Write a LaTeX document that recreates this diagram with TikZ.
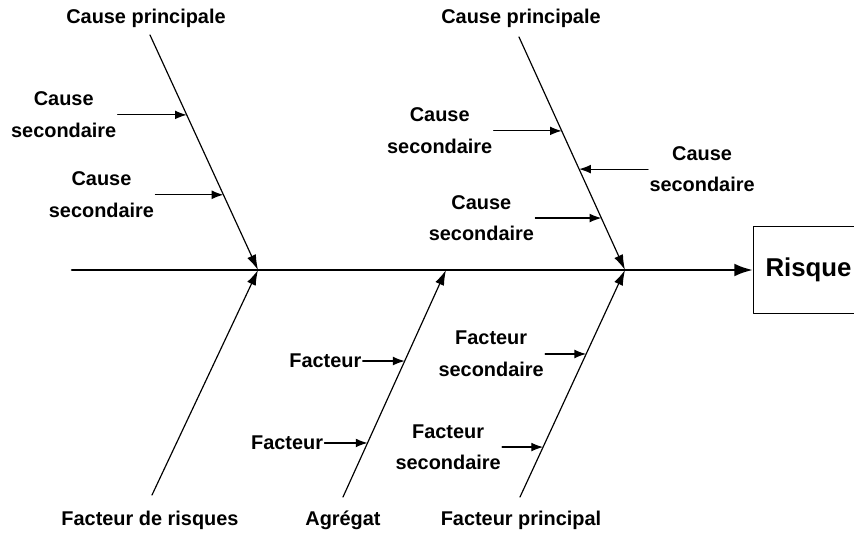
\documentclass[tikz,border=0pt]{standalone}
\usepackage{fontspec}
\setmainfont{Liberation Sans}
\usetikzlibrary{arrows.meta,calc}

\begin{document}
\begin{tikzpicture}[x=0.03cm,y=-0.03cm,
  line cap=round,line join=round,
  every node/.style={font=\bfseries\fontsize{17}{27}\selectfont,inner sep=1pt},
  B/.style={line width=1pt,-{Latex[length=13pt,width=8pt]}},
  S/.style={line width=1pt,-{Latex[length=10pt,width=7.5pt]}},
  M/.style={line width=2.2pt,-{Latex[length=16pt,width=11pt]}},
  lab/.style={align=center}]

  \useasboundingbox (0,0) rectangle (854,535);
  \clip (0,0) rectangle (854,535);

  %% ---- spine and effect box (its right side runs off the page)
  \coordinate (s0) at (72,270);
  \node[draw,line width=.8pt,minimum width=3.3cm,minimum height=2.61cm,anchor=west,
        font=\bfseries\fontsize{22}{26}\selectfont] (risk) at (753,270) {Risque};
  \coordinate (j1) at (258,270);
  \coordinate (j2) at (446,270);
  \coordinate (j3) at (625,270);
  \draw[M] (s0) -- (risk.west);

  %% ---- main bones, top
  \node (cp1) at (146,18) {Cause principale};
  \node (cp2) at (521,18) {Cause principale};
  \coordinate (t1) at (150,35);
  \coordinate (t2) at (519,37);
  \draw[B] (t1) -- (j1);
  \draw[B] (t2) -- (j3);

  %% ---- main bones, bottom
  \node (fr) at (150,520) {Facteur de risques};
  \node (ag) at (343,520) {Agrégat};
  \node (fp) at (521,520) {Facteur principal};
  \coordinate (b1) at (152,495);
  \coordinate (b2) at (343,497);
  \coordinate (b3) at (520,497);
  \draw[B] (b1) -- (j1);
  \draw[B] (b2) -- (j2);
  \draw[B] (b3) -- (j3);

  %% ---- secondary causes
  % left bone
  \coordinate (c1) at ($(t1)!0.34!(j1)$);
  \coordinate (c2) at ($(t1)!0.68!(j1)$);
  \node[lab,anchor=east] (cs1) at ($(c1)+(-69,0)$) {Cause\\secondaire};
  \node[lab,anchor=east] (cs2) at ($(c2)+(-68,0)$) {Cause\\secondaire};
  \draw[S] (cs1) -- (c1);
  \draw[S] (cs2) -- (c2);
  % right bone
  \coordinate (c3) at ($(t2)!0.403!(j3)$);
  \coordinate (c4) at ($(t2)!0.567!(j3)$);
  \coordinate (c5) at ($(t2)!0.777!(j3)$);
  \node[lab,anchor=east] (cs3) at ($(c3)+(-68,0)$) {Cause\\secondaire};
  \node[lab,anchor=west] (cs4) at ($(c4)+(69,0)$) {Cause\\secondaire};
  \node[lab,anchor=east] (cs5) at ($(c5)+(-66,0)$) {Cause\\secondaire};
  \draw[S] (cs3) -- (c3);
  \draw[S] (cs4) -- (c4);
  \draw[S] (cs5) -- (c5);

  %% ---- secondary factors
  % aggregate bone
  \coordinate (f1) at ($(b2)!0.599!(j2)$);
  \coordinate (f2) at ($(b2)!0.238!(j2)$);
  \node[anchor=east] (fa1) at ($(f1)+(-42,0)$) {Facteur};
  \node[anchor=east] (fa2) at ($(f2)+(-43,0)$) {Facteur};
  \draw[S] (fa1) -- (f1);
  \draw[S] (fa2) -- (f2);
  % main factor bone
  \coordinate (f3) at ($(b3)!0.63!(j3)$);
  \coordinate (f4) at ($(b3)!0.22!(j3)$);
  \node[lab,anchor=east] (fs1) at ($(f3)+(-41,0)$) {Facteur\\secondaire};
  \node[lab,anchor=east] (fs2) at ($(f4)+(-41,0)$) {Facteur\\secondaire};
  \draw[S] (fs1) -- (f3);
  \draw[S] (fs2) -- (f4);
\end{tikzpicture}
\end{document}
